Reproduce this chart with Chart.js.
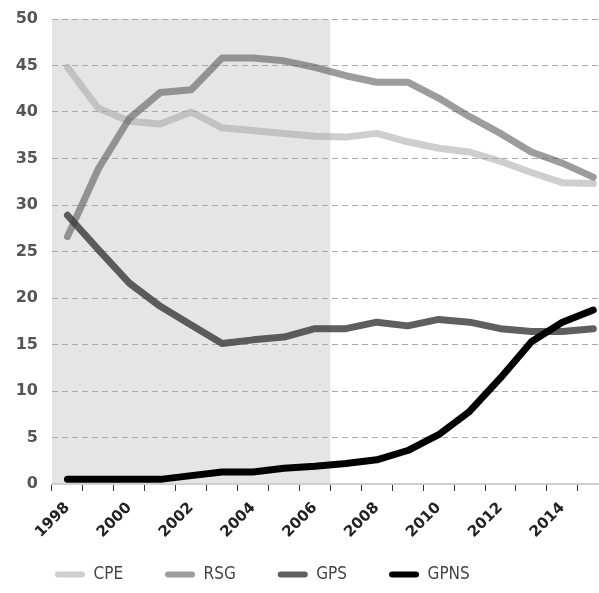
<!DOCTYPE html>
<html>
<head>
<meta charset="utf-8">
<script src="https://cdn.jsdelivr.net/npm/chart.js@4/dist/chart.umd.min.js"></script>
<style>
  html, body { margin: 0; padding: 0; overflow: hidden; background: #fff; }
</style>
</head>
<body>
<canvas id="myChart" width="614" height="593"></canvas>
<script>
// data
const years = ['1998','1999','2000','2001','2002','2003','2004','2005','2006',
               '2007','2008','2009','2010','2011','2012','2013','2014','2015'];
const cpe  = [44.8, 40.4, 39.0, 38.7, 40.0, 38.3, 38.0, 37.7, 37.4, 37.3, 37.7, 36.8, 36.1, 35.7, 34.7, 33.5, 32.4, 32.3];
const rsg  = [26.6, 33.9, 39.3, 42.1, 42.4, 45.8, 45.8, 45.5, 44.8, 43.9, 43.2, 43.2, 41.5, 39.5, 37.7, 35.7, 34.5, 33.0];
const gps  = [28.9, 25.2, 21.6, 19.1, 17.1, 15.1, 15.5, 15.8, 16.7, 16.7, 17.4, 17.0, 17.7, 17.4, 16.7, 16.4, 16.4, 16.7];
const gpns = [0.5, 0.5, 0.5, 0.5, 0.9, 1.3, 1.3, 1.7, 1.9, 2.2, 2.6, 3.6, 5.3, 7.8, 11.4, 15.3, 17.4, 18.7];
const seriesNames = ['CPE', 'RSG', 'GPS', 'GPNS'];
const shadeFrom = '1998';
const shadeTo = '2006';
const yMin = 0, yMax = 50, yStep = 5;

// grey band behind the first years
const shadePlugin = {
    id: 'shade',
    beforeDraw: chart => {
        const x = chart.scales.x;
        const area = chart.chartArea;
        const half = (x.getPixelForValue(1) - x.getPixelForValue(0)) / 2;
        const x0 = x.getPixelForValue(years.indexOf(shadeFrom)) - half;
        const x1 = x.getPixelForValue(years.indexOf(shadeTo)) + half;
        const ctx = chart.ctx;
        ctx.save();
        ctx.fillStyle = '#e5e5e5';
        ctx.fillRect(x0, area.top, x1 - x0, area.bottom - area.top);
        ctx.restore();
    }
};

// the x labels hang below the short axis box, so let them draw there
const labelRoom = {
    id: 'labelRoom',
    afterLayout: chart => {
        chart.scales.x.bottom = chart.height;
    }
};

const colors = ['rgba(165,165,165,0.55)', 'rgba(95,95,95,0.62)', 'rgba(60,60,60,0.82)', '#000000'];
const values = [cpe, rsg, gps, gpns];

const ctx = document.getElementById('myChart').getContext('2d');
new Chart(ctx, {
    type: 'line',
    data: {
        labels: years,
        datasets: seriesNames.map((name, i) => ({
            label: name,
            data: values[i],
            borderColor: colors[i],
            backgroundColor: colors[i],
            borderWidth: 7,
            borderCapStyle: 'round',
            borderJoinStyle: 'round',
            pointRadius: 0,
            tension: 0,
            order: 3 - i
        }))
    },
    options: {
        responsive: false,
        animation: false,
        layout: { padding: { left: 13, right: 0, top: 19, bottom: 0 } },
        plugins: {
            tooltip: { enabled: false },
            legend: {
                position: 'bottom',
                align: 'start',
                labels: {
                    boxWidth: 30,
                    boxHeight: 6,
                    padding: 42,
                    color: '#444',
                    font: { family: 'DejaVu Sans Condensed', size: 17 },
                    generateLabels: chart => chart.data.datasets.map((d, i) => ({
                        text: d.label,
                        fillStyle: d.borderColor,
                        strokeStyle: d.borderColor,
                        lineWidth: 0,
                        borderRadius: 3,
                        fontColor: '#444',
                        hidden: false,
                        datasetIndex: i
                    }))
                }
            }
        },
        scales: {
            x: {
                offset: true,
                afterFit: scale => { scale.height = 40; },
                border: { display: true, color: '#d0d0d0', width: 2 },
                grid: { offset: true, drawOnChartArea: false, drawTicks: true, tickLength: 7, tickColor: '#333' },
                ticks: {
                    autoSkip: false,
                    maxRotation: 45,
                    minRotation: 45,
                    padding: 8,
                    color: '#222',
                    font: { family: 'DejaVu Sans', weight: 'bold', size: 15 },
                    callback: (v, i) => (i % 2 === 0 ? years[i] : '')
                }
            },
            y: {
                min: yMin,
                max: yMax,
                afterFit: scale => { scale.width = 39; },
                border: { display: false, dash: [6, 4] },
                grid: { color: '#aaaaaa', lineWidth: 1, drawTicks: true, tickLength: 9, tickColor: 'rgba(0,0,0,0)' },
                ticks: {
                    stepSize: yStep,
                    padding: 5,
                    color: '#555',
                    font: { family: 'DejaVu Sans', weight: 'bold', size: 16 }
                }
            }
        }
    },
    plugins: [shadePlugin, labelRoom]
});
</script>
</body>
</html>
